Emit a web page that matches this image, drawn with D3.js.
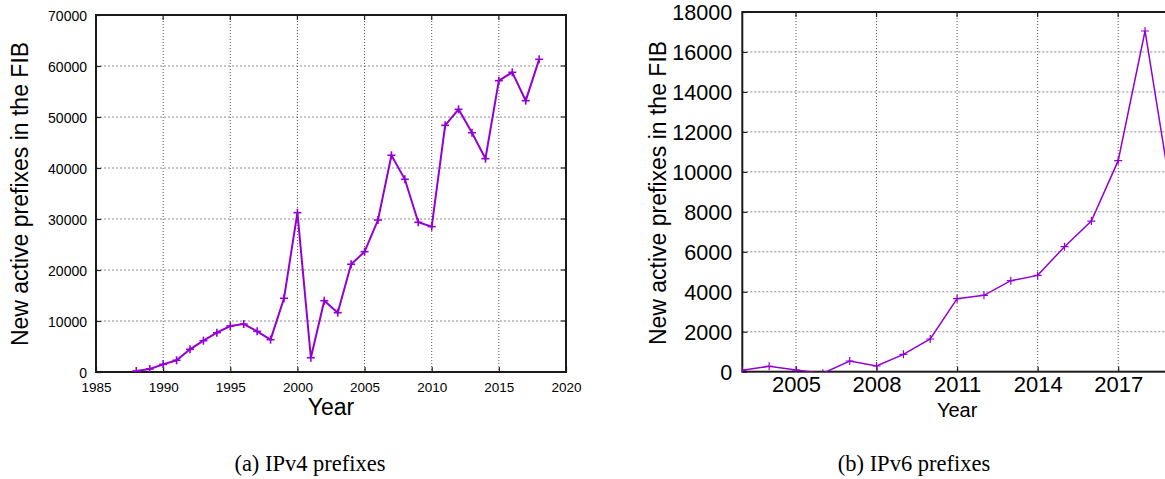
<!DOCTYPE html>
<html>
<head>
<meta charset="utf-8">
<script src="https://cdn.jsdelivr.net/npm/d3@7"></script>
<style>
  html, body { margin: 0; padding: 0; background: #fff; overflow: hidden; }
  svg { display: block; }
  .sans { font-family: "Liberation Sans", Arial, Helvetica, sans-serif; fill: #000; }
  .serif { font-family: "Liberation Serif", "Times New Roman", serif; fill: #000; }
</style>
</head>
<body>
<svg id="fig" width="1165" height="479"></svg>
<script>
// ---- IPv4: new active prefixes per year ----
const v4Years = d3.range(1988, 2019);
const v4Values = [200, 600, 1500, 2300, 4450, 6140, 7700, 9020, 9400, 7970, 6340,
  14450, 31240, 2800, 13980, 11630, 21120, 23590, 29800, 42490, 37780, 29350,
  28500, 48370, 51500, 46920, 41830, 57120, 58760, 53200, 61310];
const v4XTicks = [1985, 1990, 1995, 2000, 2005, 2010, 2015, 2020];
const v4YTicks = [0, 10000, 20000, 30000, 40000, 50000, 60000, 70000];

// ---- IPv6: new active prefixes per year ----
const v6Years = d3.range(2003, 2020);
const v6Values = [70, 270, 85, -80, 535, 285, 870, 1636, 3653, 3820, 4554, 4820,
  6255, 7540, 10560, 17050, 8700];
const v6XTicks = [2005, 2008, 2011, 2014, 2017];
const v6YTicks = [0, 2000, 4000, 6000, 8000, 10000, 12000, 14000, 16000, 18000];

const yLabel = "New active prefixes in the FIB";
const xLabel = "Year";
const captions = ["(a) IPv4 prefixes", "(b) IPv6 prefixes"];

const LINE = "#9400d3";
const svg = d3.select("#fig");
const intFmt = d3.format("d");

function panel(cfg) {
  const g = svg.append("g");
  const x = d3.scaleLinear().domain(cfg.xDomain).range([cfg.left, cfg.right]);
  const y = d3.scaleLinear().domain(cfg.yDomain).range([cfg.bottom, cfg.top]);

  const clipId = "clip-" + cfg.id;
  svg.append("clipPath").attr("id", clipId)
    .append("rect")
    .attr("x", cfg.left).attr("y", cfg.top)
    .attr("width", cfg.right - cfg.left).attr("height", cfg.bottom - cfg.top);

  // dotted grid
  const grid = g.append("g");
  grid.selectAll("line.hg").data(cfg.yTicks.slice(1, -1)).join("line")
    .attr("x1", cfg.left).attr("x2", cfg.right)
    .attr("y1", d => y(d)).attr("y2", d => y(d))
    .attr("stroke", "#8a8a8a").attr("stroke-width", 1).attr("stroke-dasharray", "2,2");
  grid.selectAll("line.vg").data(cfg.xTicks.filter(t => t > cfg.xDomain[0] && t < cfg.xDomain[1])).join("line")
    .attr("x1", d => x(d)).attr("x2", d => x(d))
    .attr("y1", cfg.top).attr("y2", cfg.bottom)
    .attr("stroke", "#555").attr("stroke-width", 1).attr("stroke-dasharray", "1,2");

  // axes via d3 axis generators (tick labels), inward tick marks
  const yAxis = d3.axisLeft(y).tickValues(cfg.yTicks).tickSize(-5).tickPadding(cfg.yPad).tickFormat(intFmt);
  const ya = g.append("g").attr("transform", `translate(${cfg.left},0)`).call(yAxis);
  const xAxis = d3.axisBottom(x).tickValues(cfg.xTicks).tickSize(-5).tickPadding(cfg.xPad).tickFormat(intFmt);
  const xa = g.append("g").attr("transform", `translate(0,${cfg.bottom})`).call(xAxis);
  [ya, xa].forEach(a => {
    a.select(".domain").remove();
    a.selectAll(".tick line").attr("stroke", "#222").attr("stroke-width", 1.2);
    a.selectAll("text").attr("class", "sans").attr("fill", "#000");
  });
  ya.selectAll(".tick text").attr("dy", "0.36em").style("font-size", cfg.yTickFont + "px");
  xa.selectAll(".tick text").style("font-size", cfg.xTickFont + "px");

  // mirrored ticks on top and right
  g.append("g").selectAll("line").data(cfg.xTicks).join("line")
    .attr("x1", d => x(d)).attr("x2", d => x(d))
    .attr("y1", cfg.top).attr("y2", cfg.top + 5)
    .attr("stroke", "#222").attr("stroke-width", 1.2);
  g.append("g").selectAll("line").data(cfg.yTicks).join("line")
    .attr("x1", cfg.right).attr("x2", cfg.right - 5)
    .attr("y1", d => y(d)).attr("y2", d => y(d))
    .attr("stroke", "#222").attr("stroke-width", 1.2);

  // frame
  g.append("rect")
    .attr("x", cfg.left).attr("y", cfg.top)
    .attr("width", cfg.right - cfg.left).attr("height", cfg.bottom - cfg.top)
    .attr("fill", "none").attr("stroke", "#1a1a1a").attr("stroke-width", 2);

  // data line and + markers
  const pts = cfg.years.map((yr, i) => ({ yr, v: cfg.values[i] }));
  const data = g.append("g").attr("clip-path", `url(#${clipId})`);
  data.append("path")
    .datum(pts)
    .attr("d", d3.line().x(d => x(d.yr)).y(d => y(d.v)))
    .attr("fill", "none").attr("stroke", LINE).attr("stroke-width", cfg.lw)
    .attr("stroke-linejoin", "miter");
  const m = cfg.mark;
  const mk = data.selectAll("g.mk").data(pts).join("g")
    .attr("transform", d => `translate(${x(d.yr)},${y(d.v)})`);
  mk.append("line").attr("x1", -m).attr("x2", m).attr("stroke", LINE).attr("stroke-width", cfg.lw * 0.8);
  mk.append("line").attr("y1", -m).attr("y2", m).attr("stroke", LINE).attr("stroke-width", cfg.lw * 0.8);

  // axis titles
  g.append("text").attr("class", "sans")
    .attr("x", (cfg.left + cfg.right) / 2).attr("y", cfg.xLabelY)
    .attr("text-anchor", "middle").style("font-size", cfg.xLabelFont + "px")
    .text(xLabel);
  g.append("text").attr("class", "sans")
    .attr("transform", `translate(${cfg.yLabelX},${cfg.yLabelY}) rotate(-90)`)
    .attr("text-anchor", "middle").style("font-size", cfg.labelFont + "px")
    .text(yLabel);

  // caption
  svg.append("text").attr("class", "serif")
    .attr("x", cfg.capX).attr("y", 471)
    .attr("text-anchor", "middle").style("font-size", "22.5px")
    .text(cfg.caption);
}

panel({
  id: "v4", years: v4Years, values: v4Values,
  xDomain: [1985, 2020], yDomain: [0, 70000],
  xTicks: v4XTicks, yTicks: v4YTicks,
  left: 96, right: 566, top: 15, bottom: 372,
  yTickFont: 14, xTickFont: 13.5, yPad: 9, xPad: 10,
  labelFont: 23, xLabelFont: 23, xLabelY: 415, yLabelX: 28, yLabelY: 194,
  lw: 2, mark: 4, caption: captions[0], capX: 310
});

panel({
  id: "v6", years: v6Years, values: v6Values,
  xDomain: [2003, 2019], yDomain: [0, 18000],
  xTicks: v6XTicks, yTicks: v6YTicks,
  left: 742.3, right: 1171.9, top: 12, bottom: 371.7,
  yTickFont: 21.6, xTickFont: 22, yPad: 10, xPad: 5,
  labelFont: 23, xLabelFont: 20, xLabelY: 417, yLabelX: 666, yLabelY: 193,
  lw: 1.5, mark: 4, caption: captions[1], capX: 914
});
</script>
</body>
</html>
